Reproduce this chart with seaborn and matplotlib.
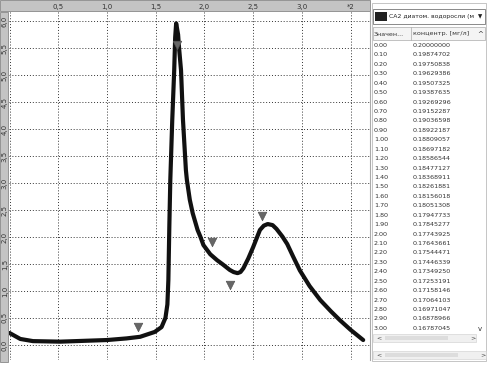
import numpy as np
import pandas as pd
import seaborn as sns
import matplotlib.pyplot as plt
from matplotlib.patches import Rectangle

# curve (time, concentration)
time = [0.00, 0.11, 0.24, 0.52, 1.00, 1.20, 1.34, 1.49, 1.56, 1.60, 1.62, 1.63, 1.64,
        1.65, 1.67, 1.69, 1.70, 1.71, 1.73, 1.74, 1.76, 1.78, 1.81, 1.82, 1.85, 1.88,
        1.93, 1.96, 1.99, 2.06, 2.13, 2.19, 2.26, 2.30, 2.34, 2.37, 2.40, 2.45, 2.50,
        2.57, 2.61, 2.65, 2.70, 2.74, 2.80, 2.85, 2.91, 2.98, 3.08, 3.19, 3.30, 3.39,
        3.50, 3.63]
conc = [0.22, 0.11, 0.07, 0.06, 0.09, 0.12, 0.15, 0.24, 0.33, 0.50, 0.75, 1.20, 2.20,
        3.06, 4.17, 5.09, 5.70, 5.96, 5.75, 5.50, 5.09, 4.17, 3.24, 3.06, 2.69, 2.44,
        2.13, 2.00, 1.85, 1.68, 1.57, 1.49, 1.39, 1.35, 1.33, 1.35, 1.42, 1.60, 1.81,
        2.13, 2.21, 2.24, 2.22, 2.15, 2.01, 1.87, 1.64, 1.38, 1.09, 0.83, 0.62, 0.46,
        0.28, 0.09]

# observed points (triangles)
obs_time = [1.32, 1.72, 2.08, 2.26, 2.59]
obs_conc = [0.33, 5.56, 1.91, 1.11, 2.39]

# table on the right panel
tab_time = ["0.00", "0.10", "0.20", "0.30", "0.40", "0.50", "0.60", "0.70", "0.80", "0.90",
            "1.00", "1.10", "1.20", "1.30", "1.40", "1.50", "1.60", "1.70", "1.80", "1.90",
            "2.00", "2.10", "2.20", "2.30", "2.40", "2.50", "2.60", "2.70", "2.80", "2.90", "3.00"]
tab_conc = ["0.20000000", "0.19874702", "0.19750838", "0.19629386", "0.19507325", "0.19387635",
            "0.19269296", "0.19152287", "0.19036598", "0.18922187", "0.18809057", "0.18697182",
            "0.18586544", "0.18477127", "0.18368911", "0.18261881", "0.18156018", "0.18051308",
            "0.17947733", "0.17845277", "0.17743925", "0.17643661", "0.17544471", "0.17446339",
            "0.17349250", "0.17253191", "0.17158146", "0.17064103", "0.16971047", "0.16878966",
            "0.16787045"]

x_ticks = [0.5, 1.0, 1.5, 2.0, 2.5, 3.0, 3.5]
x_labels = ["0,5", "1,0", "1,5", "2,0", "2,5", "3,0", "*2"]
y_ticks = [0.0, 0.5, 1.0, 1.5, 2.0, 2.5, 3.0, 3.5, 4.0, 4.5, 5.0, 5.5, 6.0]
y_labels = ["0,0", "0,5", "1,0", "1,5", "2,0", "2,5", "3,0", "3,5", "4,0", "4,5", "5,0", "5,5", "6,0"]

sns.set_style("white")
plt.rcParams['font.family'] = ['DejaVu Sans']

W, H = 488, 365
fig = plt.figure(figsize=(W / 100, H / 100), dpi=100)

def box(x0, y0, x1, y1):
    return [x0 / W, 1 - y1 / H, (x1 - x0) / W, (y1 - y0) / H]

def rect(x0, y0, x1, y1, **kw):
    kw.setdefault("zorder", -1)
    fig.patches.append(Rectangle((x0 / W, 1 - y1 / H), (x1 - x0) / W, (y1 - y0) / H,
                                 transform=fig.transFigure, **kw))

# gray strips behind the axis labels
rect(0, 0, 370, 11, facecolor="#c4c4c4", edgecolor="#888888", lw=0.6)
rect(0, 12, 8, 362, facecolor="#c4c4c4", edgecolor="#888888", lw=0.6)

ax = fig.add_axes(box(9, 12, 370, 360))
ax.patch.set_alpha(0)
df = pd.DataFrame({"t": time, "c": conc})
sns.lineplot(data=df, x="t", y="c", ax=ax, color="#111111", lw=3.0, sort=False)
obs = pd.DataFrame({"t": obs_time, "c": obs_conc})
sns.scatterplot(data=obs, x="t", y="c", ax=ax, marker="v", s=38, color="#666666",
                edgecolor="#555555", zorder=5)

ax.set_xlim(-0.006, 3.70)
ax.set_ylim(-0.28, 6.17)
ax.set_xticks(x_ticks)
ax.set_xticklabels(x_labels)
ax.set_yticks(y_ticks)
ax.set_yticklabels(y_labels, rotation=90, va="center")
ax.xaxis.tick_top()
ax.tick_params(axis="x", length=0, pad=1.5, labelsize=5, labelcolor="#333333")
ax.tick_params(axis="y", length=0, pad=0.8, labelsize=5, labelcolor="#333333")
ax.grid(True, color="#333333", linestyle=(0, (1, 2)), lw=0.7)
ax.axvline(0, color="#333333", linestyle=(0, (1, 2)), lw=0.7)
ax.set_xlabel("")
ax.set_ylabel("")
for s in ax.spines.values():
    s.set_visible(False)
ax.spines["right"].set_visible(True)
ax.spines["right"].set_color("#aaaaaa")

# right panel
rect(372, 3, 486, 361, facecolor="white", edgecolor="#bbbbbb", lw=0.6)
# dropdown
rect(373, 9, 485, 24, facecolor="white", edgecolor="#777777", lw=0.6, zorder=1)
rect(375, 12, 387, 21, facecolor="#222222", edgecolor="none", zorder=2)
fig.text(389 / W, 1 - 16.5 / H, "СА2 диатом. водоросли (м", fontsize=4.4, va="center",
         color="#222222")
rect(475, 10, 484, 23, facecolor="white", edgecolor="none", zorder=3)
fig.text(480 / W, 1 - 16.5 / H, "▼", fontsize=4, va="center", ha="center", color="#222222",
         zorder=4)

# table header
rect(373, 27, 485, 40, facecolor="#f4f4f4", edgecolor="#aaaaaa", lw=0.5)
fig.text(374 / W, 1 - 34 / H, "Значен...", fontsize=4.6, va="center", color="#333333")
fig.text(413 / W, 1 - 34 / H, "концентр. [мг/л]", fontsize=4.6, va="center", color="#333333")
fig.text(480 / W, 1 - 34 / H, "^", fontsize=5, va="center", ha="center", color="#333333")
fig.lines.append(plt.Line2D([411 / W, 411 / W], [1 - 40 / H, 1 - 27 / H],
                            transform=fig.transFigure, color="#aaaaaa", lw=0.5))

row0, step = 45.5, 9.43
for i, (tt, cc) in enumerate(zip(tab_time, tab_conc)):
    yy = 1 - (row0 + i * step) / H
    fig.text(374 / W, yy, tt, fontsize=4.6, va="center", color="#333333")
    fig.text(413 / W, yy, cc, fontsize=4.6, va="center", color="#333333")
fig.text(480 / W, 1 - 329 / H, "v", fontsize=5, va="center", ha="center", color="#333333")

# scrollbars
for y0, x0, x1 in [(338, 373, 476), (355, 373, 486)]:
    rect(x0, y0 - 4, x1, y0 + 4, facecolor="#f0f0f0", edgecolor="#cccccc", lw=0.4)
    fig.text((x0 + 3) / W, 1 - y0 / H, "<", fontsize=4.5, va="center", color="#444444")
    fig.text((x1 - 6) / W, 1 - y0 / H, ">", fontsize=4.5, va="center", color="#444444")
    rect(x0 + 12, y0 - 2, x1 - 28, y0 + 2, facecolor="#dddddd", edgecolor="none", zorder=0)

fig.savefig("out.png", dpi=100)
